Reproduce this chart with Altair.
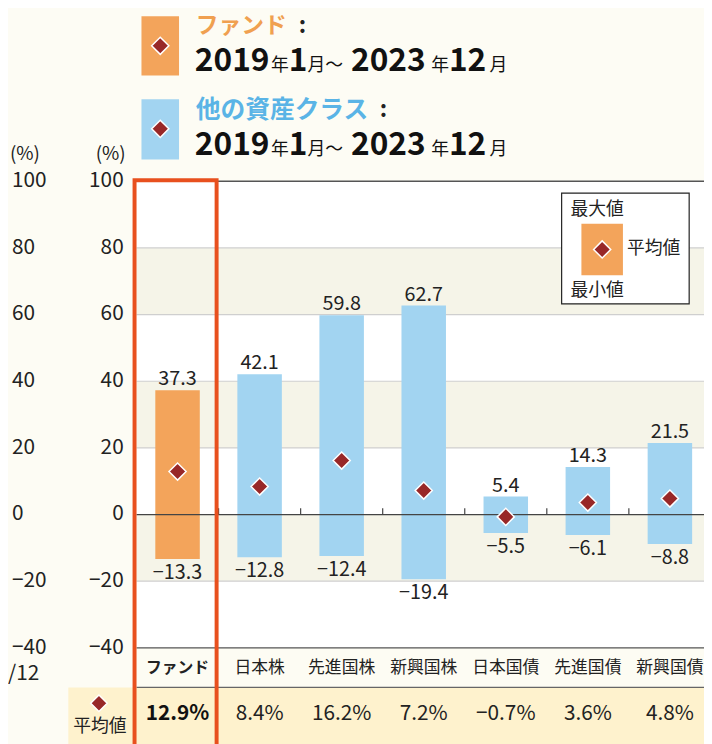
import altair as alt
import pandas as pd

# ---------------- data ----------------
categories = ["ファンド", "日本株", "先進国株", "新興国株", "日本国債", "先進国債", "新興国債"]
max_vals = [37.3, 42.1, 59.8, 62.7, 5.4, 14.3, 21.5]
min_vals = [-13.3, -12.8, -12.4, -19.4, -5.5, -6.1, -8.8]
avg_vals = [12.9, 8.4, 16.2, 7.2, -0.7, 3.6, 4.8]
groups = ["ファンド", "他の資産クラス", "他の資産クラス", "他の資産クラス",
          "他の資産クラス", "他の資産クラス", "他の資産クラス"]
y_ticks = [100, 80, 60, 40, 20, 0, -20, -40]
band_tops = [80, 40, 0]
band_bottoms = [60, 20, -20]
period_parts = ["2019", "年", "1", "月～", "2023", "年", "12", "月"]

FONT = "Noto Sans CJK JP"
ORANGE = "#f3a45b"
BLUE = "#a2d4f1"
DIAMOND = "#982828"
RED = "#e8501e"


def fmt(v):
    return f"{v:.1f}".replace("-", "−")


df = pd.DataFrame({
    "cat": categories,
    "max": max_vals,
    "min": min_vals,
    "avg": avg_vals,
    "group": groups,
    "max_label": [fmt(v) for v in max_vals],
    "min_label": [fmt(v) for v in min_vals],
    "avg_label": [fmt(v) + "%" for v in avg_vals],
})
df_fund = df[df["cat"] == "ファンド"]
df_other = df[df["cat"] != "ファンド"]
df_ticks = pd.DataFrame({"v": y_ticks, "lab": [str(v).replace("-", "−") for v in y_ticks]})
df_bands = pd.DataFrame({"top": band_tops, "bottom": band_bottoms})
df_grid = pd.DataFrame({"v": [v for v in y_ticks if v not in (100, 0, -40)]})
one = pd.DataFrame({"k": [0]})

W, H = 574, 472
x_scale = alt.Scale(domain=categories, range=[0, 581], paddingInner=0, paddingOuter=0)
y_scale = alt.Scale(domain=[-40, 100], nice=False, zero=False)


def X(**kw):
    return alt.X("cat:N", sort=categories, scale=x_scale, axis=None, **kw)


def Y(field):
    return alt.Y(field, scale=y_scale, axis=None)


def label(text, x, y, size=17, weight="normal", color="#222222", align="left", baseline="middle"):
    return alt.Chart(one).mark_text(
        font=FONT, fontSize=size, fontWeight=weight, color=color, align=align, baseline=baseline
    ).encode(x=alt.value(x), y=alt.value(y), text=alt.value(text))


def box(x, x2, y, y2, fill, stroke=None, sw=0):
    kw = dict(fill=fill)
    if stroke:
        kw.update(stroke=stroke, strokeWidth=sw)
    return alt.Chart(one).mark_rect(**kw).encode(
        x=alt.value(x), x2=alt.value(x2), y=alt.value(y), y2=alt.value(y2))


def hline(y, x, x2, color, sw):
    return alt.Chart(one).mark_rule(color=color, strokeWidth=sw).encode(
        x=alt.value(x), x2=alt.value(x2), y=alt.value(y))


def diamond(x, y, size=300):
    return alt.Chart(one).mark_point(
        shape="diamond", filled=True, size=size, color=DIAMOND, stroke="white", strokeWidth=1.5,
        opacity=1).encode(x=alt.value(x), y=alt.value(y))


layers = []

# row backgrounds below the plot
layers.append(box(0, 600, H, H + 40, "#fdfcf3"))
layers.append(box(-69, 600, H + 40, H + 100, "#fef2cd"))

# shaded bands
layers.append(alt.Chart(df_bands).mark_rect(fill="#f5f4e8").encode(
    x=alt.value(0), x2=alt.value(600), y=Y("top:Q"), y2=alt.Y2("bottom:Q")))
# light gridlines
layers.append(alt.Chart(df_grid).mark_rule(color="#cfcfcf", strokeWidth=1.2).encode(
    x=alt.value(0), x2=alt.value(600), y=Y("v:Q")))

# bars
layers.append(alt.Chart(df).mark_bar(size=45).encode(
    x=X(), y=Y("min:Q"), y2=alt.Y2("max:Q"),
    color=alt.Color("group:N", scale=alt.Scale(domain=["ファンド", "他の資産クラス"],
                                                range=[ORANGE, BLUE]), legend=None)))

# zero line and ticks
layers.append(alt.Chart(one).mark_rule(color="#444444", strokeWidth=1.2).encode(
    x=alt.value(0), x2=alt.value(600), y=alt.Y("z:Q", scale=y_scale, axis=None)
).transform_calculate(z="0"))
layers.append(alt.Chart(df_other).mark_rule(color="#444444", strokeWidth=1.2).encode(
    x=X(bandPosition=0), y=alt.Y("z0:Q", scale=y_scale, axis=None),
    y2=alt.Y2("z1:Q")).transform_calculate(z0="0", z1="1.9"))

# top / bottom frame lines
layers.append(hline(0, 82, 600, "#555555", 1.5))
layers.append(hline(H, 0, 600, "#555555", 1.5))
layers.append(hline(H + 40, 0, 600, "#666666", 1.2))

# value labels
layers.append(alt.Chart(df).mark_text(font=FONT, fontSize=20, color="#222222", baseline="alphabetic", dy=-5).encode(
    x=X(), y=Y("max:Q"), text="max_label:N"))
layers.append(alt.Chart(df).mark_text(font=FONT, fontSize=20, color="#222222", baseline="top", dy=4).encode(
    x=X(), y=Y("min:Q"), text="min_label:N"))

# average diamonds
layers.append(alt.Chart(df).mark_point(shape="diamond", filled=True, size=300, color=DIAMOND,
                                       stroke="white", strokeWidth=1.5, opacity=1).encode(
    x=X(), y=Y("avg:Q")))

# category labels & average row
layers.append(alt.Chart(df_fund).mark_text(font=FONT, fontSize=16, fontWeight="bold", color="#222222").encode(
    x=X(), y=alt.value(H + 20), text="cat:N"))
layers.append(alt.Chart(df_other).mark_text(font=FONT, fontSize=17, color="#222222").encode(
    x=X(), y=alt.value(H + 20), text="cat:N"))
layers.append(alt.Chart(df_fund).mark_text(font=FONT, fontSize=21, fontWeight="bold", color="#111111").encode(
    x=X(), y=alt.value(H + 67), text="avg_label:N"))
layers.append(alt.Chart(df_other).mark_text(font=FONT, fontSize=21, color="#222222").encode(
    x=X(), y=alt.value(H + 67), text="avg_label:N"))
layers.append(diamond(-38, H + 56, 280))
layers.append(label("平均値", -37, H + 80, size=18, align="center"))

# left axes (two columns)
layers.append(alt.Chart(df_ticks).mark_text(font=FONT, fontSize=21, color="#222222", align="left").encode(
    x=alt.value(-126), y=Y("v:Q"), text="lab:N"))
layers.append(alt.Chart(df_ticks).mark_text(font=FONT, fontSize=21, color="#222222", align="right").encode(
    x=alt.value(-13), y=Y("v:Q"), text="lab:N"))
layers.append(label("(%)", -128, -27, size=19))
layers.append(label("(%)", -11, -27, size=19, align="right"))
layers.append(label("/12", -130, 498, size=21))

# red highlight frame
layers.append(alt.Chart(one).mark_rect(fillOpacity=0, stroke=RED, strokeWidth=4).encode(
    x=alt.value(-2), x2=alt.value(81), y=alt.value(-1), y2=alt.value(640)))

# top legend
layers.append(box(5, 43, -167, -107, ORANGE))
layers.append(diamond(24, -137))
layers.append(box(5, 43, -83, -22, BLUE))
layers.append(diamond(24, -53))
layers.append(label("ファンド", 60, -157, size=23, weight="bold", color="#f0a050"))
layers.append(label(":", 164, -157, size=23, weight="bold", color="#222222"))
layers.append(label("他の資産クラス", 60, -72, size=25, weight="bold", color="#5ab4e6"))
layers.append(label(":", 246, -72, size=23, weight="bold", color="#222222"))

seg_x = [59, 136, 154, 173, 217, 298, 316, 357]
for base in (-112, -27):
    for part, sx in zip(period_parts, seg_x):
        big = part[0].isdigit()
        layers.append(label(part, sx, base, size=32 if big else 18, weight="bold" if big else "normal",
                            color="#111111", baseline="alphabetic"))

# right legend
layers.append(box(430, 559, 12, 124, "white", "#222222", 1.2))
layers.append(box(450, 492, 43, 95, ORANGE))
layers.append(diamond(471, 69))
layers.append(label("最大値", 439, 29, size=18))
layers.append(label("平均値", 496, 69, size=18))
layers.append(label("最小値", 439, 111, size=18))

chart = alt.layer(*layers).properties(
    width=W, height=H,
    autosize=alt.AutoSizeParams(type="none"),
    padding={"left": 130, "top": 171, "right": 0, "bottom": 93},
    background="#fdfcf4",
).configure_view(fill="white", stroke=None)

chart.save("out.html", embed_options={"renderer": "svg", "actions": False})
